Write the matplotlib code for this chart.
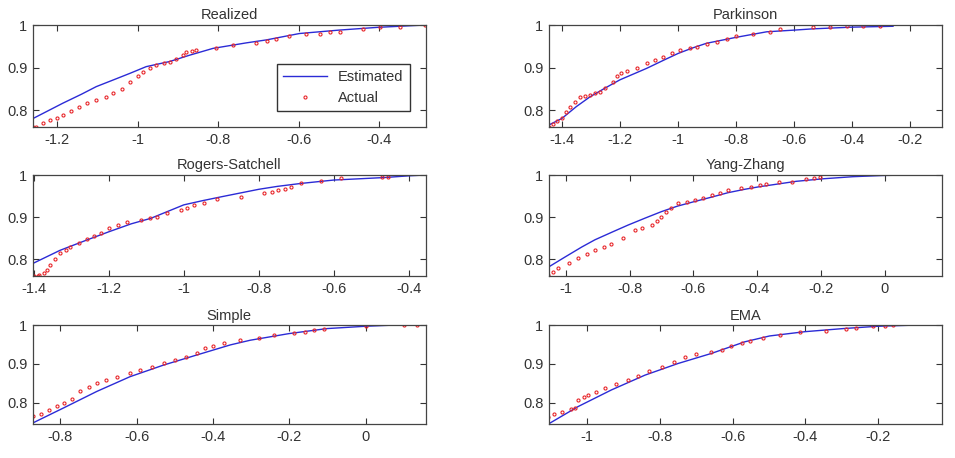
import matplotlib.pyplot as plt
from matplotlib.ticker import FuncFormatter

plt.rcParams['font.family'] = ['Liberation Sans', 'DejaVu Sans']

titles = ['Realized', 'Parkinson', 'Rogers-Satchell', 'Yang-Zhang', 'Simple', 'EMA']

# estimated (fitted) curves
est_x = [
    [-1.26, -1.186, -1.14, -1.103, -1.06, -1.02, -0.979, -0.921, -0.871, -0.813, -0.73, -0.68, -0.598, -0.5, -0.404, -0.285],
    [-1.444, -1.4, -1.35, -1.303, -1.25, -1.2, -1.108, -1.05, -1.0, -0.95, -0.902, -0.8, -0.695, -0.6, -0.535, -0.4, -0.26],
    [-1.402, -1.33, -1.26, -1.2, -1.14, -1.088, -1.0, -0.95, -0.901, -0.8, -0.75, -0.687, -0.6, -0.464, -0.4, -0.355],
    [-1.053, -1.003, -0.95, -0.909, -0.85, -0.805, -0.75, -0.7, -0.65, -0.596, -0.54, -0.491, -0.439, -0.394, -0.277, -0.193, -0.099, 0.0, 0.086],
    [-0.871, -0.792, -0.704, -0.617, -0.529, -0.442, -0.354, -0.302, -0.201, -0.101, 0.0, 0.074, 0.157],
    [-1.105, -1.025, -0.933, -0.841, -0.75, -0.658, -0.566, -0.498, -0.401, -0.296, -0.2, -0.097],
]
est_y = [
    [0.78, 0.816, 0.837, 0.855, 0.871, 0.886, 0.902, 0.914, 0.929, 0.945, 0.958, 0.965, 0.98, 0.988, 0.9945, 1.0],
    [0.765, 0.78, 0.808, 0.831, 0.852, 0.871, 0.898, 0.917, 0.933, 0.946, 0.957, 0.971, 0.984, 0.988, 0.991, 0.995, 0.997],
    [0.79, 0.821, 0.845, 0.865, 0.884, 0.897, 0.929, 0.939, 0.948, 0.966, 0.973, 0.98, 0.988, 0.994, 0.998, 1.0],
    [0.782, 0.805, 0.829, 0.846, 0.866, 0.881, 0.898, 0.913, 0.926, 0.937, 0.948, 0.958, 0.966, 0.972, 0.985, 0.991, 0.996, 0.999, 1.0],
    [0.748, 0.786, 0.829, 0.867, 0.897, 0.923, 0.949, 0.961, 0.978, 0.991, 0.997, 1.0, 1.0],
    [0.746, 0.79, 0.833, 0.871, 0.901, 0.927, 0.957, 0.972, 0.983, 0.991, 0.997, 1.0],
]

# actual (empirical) points
act_x = [
    [-1.26, -1.252, -1.236, -1.219, -1.2, -1.186, -1.165, -1.145, -1.125, -1.103, -1.08, -1.062,
     -1.04, -1.02, -1.0, -0.987, -0.97, -0.954, -0.935, -0.921, -0.905, -0.888, -0.879, -0.865,
     -0.855, -0.805, -0.764, -0.706, -0.68, -0.656, -0.623, -0.581, -0.548, -0.523, -0.498,
     -0.441, -0.399, -0.349, -0.287],
    [-1.444, -1.43, -1.415, -1.4, -1.385, -1.371, -1.355, -1.337, -1.32, -1.303, -1.285, -1.268,
     -1.25, -1.223, -1.211, -1.195, -1.177, -1.14, -1.108, -1.08, -1.051, -1.02, -0.994, -0.96,
     -0.936, -0.9, -0.867, -0.83, -0.8, -0.742, -0.684, -0.65, -0.535, -0.478, -0.42, -0.364,
     -0.306],
    [-1.4, -1.39, -1.385, -1.374, -1.365, -1.356, -1.343, -1.33, -1.315, -1.303, -1.28, -1.258,
     -1.24, -1.222, -1.2, -1.175, -1.151, -1.115, -1.09, -1.071, -1.044, -1.008, -0.99, -0.972,
     -0.946, -0.91, -0.847, -0.785, -0.765, -0.749, -0.73, -0.714, -0.687, -0.633, -0.58,
     -0.47, -0.455],
    [-1.055, -1.04, -1.024, -0.99, -0.961, -0.935, -0.909, -0.88, -0.857, -0.82, -0.784, -0.76,
     -0.731, -0.715, -0.7, -0.685, -0.669, -0.648, -0.62, -0.596, -0.57, -0.543, -0.515, -0.491,
     -0.45, -0.42, -0.39, -0.371, -0.33, -0.29, -0.246, -0.22, -0.204],
    [-0.871, -0.85, -0.83, -0.809, -0.79, -0.77, -0.748, -0.725, -0.704, -0.68, -0.65, -0.617,
     -0.59, -0.56, -0.529, -0.5, -0.47, -0.442, -0.42, -0.4, -0.372, -0.33, -0.28, -0.24,
     -0.188, -0.16, -0.135, -0.11, 0.0, 0.1, 0.135],
    [-1.107, -1.09, -1.07, -1.045, -1.034, -1.025, -1.01, -0.997, -0.975, -0.951, -0.92, -0.887,
     -0.86, -0.83, -0.795, -0.76, -0.731, -0.7, -0.658, -0.63, -0.603, -0.575, -0.553, -0.516,
     -0.47, -0.415, -0.342, -0.287, -0.26, -0.214, -0.18, -0.159],
]
act_y = [
    [0.76, 0.761, 0.77, 0.776, 0.782, 0.788, 0.798, 0.808, 0.816, 0.824, 0.831, 0.839,
     0.85, 0.867, 0.879, 0.89, 0.898, 0.906, 0.91, 0.912, 0.919, 0.929, 0.937, 0.94,
     0.941, 0.945, 0.953, 0.958, 0.963, 0.966, 0.974, 0.98, 0.98, 0.984, 0.984,
     0.99, 0.996, 0.996, 1.0],
    [0.76, 0.768, 0.775, 0.782, 0.795, 0.808, 0.82, 0.831, 0.834, 0.835, 0.839, 0.843,
     0.852, 0.867, 0.88, 0.886, 0.892, 0.9, 0.91, 0.918, 0.925, 0.933, 0.941, 0.945,
     0.949, 0.955, 0.961, 0.967, 0.974, 0.979, 0.984, 0.99, 0.996, 0.996, 0.998, 0.998,
     0.998],
    [0.76, 0.761, 0.762, 0.766, 0.775, 0.786, 0.8, 0.814, 0.822, 0.829, 0.838, 0.849,
     0.856, 0.863, 0.873, 0.88, 0.889, 0.893, 0.897, 0.901, 0.909, 0.917, 0.922, 0.929,
     0.934, 0.942, 0.948, 0.958, 0.96, 0.964, 0.967, 0.972, 0.98, 0.986, 0.992,
     0.996, 0.996],
    [0.762, 0.77, 0.778, 0.79, 0.802, 0.812, 0.821, 0.83, 0.837, 0.85, 0.869, 0.874,
     0.881, 0.89, 0.901, 0.911, 0.921, 0.933, 0.937, 0.94, 0.946, 0.952, 0.958, 0.964,
     0.968, 0.972, 0.976, 0.978, 0.984, 0.984, 0.99, 0.994, 0.996],
    [0.765, 0.772, 0.781, 0.792, 0.8, 0.81, 0.829, 0.84, 0.851, 0.858, 0.866, 0.876,
     0.884, 0.893, 0.902, 0.91, 0.918, 0.927, 0.94, 0.946, 0.953, 0.961, 0.968, 0.974,
     0.98, 0.983, 0.987, 0.99, 0.997, 1.0, 1.0],
    [0.764, 0.77, 0.777, 0.783, 0.786, 0.807, 0.815, 0.82, 0.828, 0.837, 0.848, 0.858,
     0.87, 0.882, 0.893, 0.906, 0.918, 0.925, 0.931, 0.937, 0.945, 0.953, 0.96, 0.967,
     0.975, 0.981, 0.985, 0.99, 0.993, 0.997, 0.998, 1.0],
]

xlims = [(-1.26, -0.285), (-1.444, -0.093), (-1.402, -0.355),
         (-1.053, 0.179), (-0.871, 0.157), (-1.105, -0.025)]
ylims = [(0.76, 1), (0.76, 1), (0.76, 1), (0.76, 1), (0.745, 1), (0.745, 1)]
xticks = [[-1.2, -1, -0.8, -0.6, -0.4],
          [-1.4, -1.2, -1, -0.8, -0.6, -0.4, -0.2],
          [-1.4, -1.2, -1, -0.8, -0.6, -0.4],
          [-1, -0.8, -0.6, -0.4, -0.2, 0],
          [-0.8, -0.6, -0.4, -0.2, 0],
          [-1, -0.8, -0.6, -0.4, -0.2]]
yticks = [0.8, 0.9, 1]

fig = plt.figure(figsize=(9.55, 4.58), dpi=100)

col_left = [0.0346, 0.5749]
col_w = 0.411
rows = [(0.7227, 0.2227), (0.3974, 0.2205), (0.0742, 0.216)]

fmt = FuncFormatter(lambda v, p: ('%g' % round(v, 3)))

for i in range(6):
    r, c = divmod(i, 2)
    ax = fig.add_axes([col_left[c], rows[r][0], col_w, rows[r][1]])
    ax.plot(est_x[i], est_y[i], color='#2b2bd6', lw=1.0, label='Estimated')
    ax.plot(act_x[i], act_y[i], ls='none', marker='o', ms=2.2, mfc='none',
            mec='#e8262a', mew=0.8, label='Actual')
    ax.set_xlim(xlims[i])
    ax.set_ylim(ylims[i])
    ax.set_xticks(xticks[i])
    ax.set_yticks(yticks)
    ax.xaxis.set_major_formatter(fmt)
    ax.yaxis.set_major_formatter(fmt)
    ax.tick_params(direction='in', top=True, right=True, length=4, width=0.8,
                   labelsize=10.5, colors='#333333', pad=4)
    for s in ax.spines.values():
        s.set_color('#444444')
        s.set_linewidth(0.9)
    ax.set_title(titles[i], fontsize=10.5, color='#333333', pad=4)
    if i == 0:
        ax.legend(loc='lower right', fontsize=10.5, fancybox=False, edgecolor='#333333',
                  framealpha=1, handlelength=3, borderaxespad=1.1, labelcolor='#333333')

plt.savefig('out.png', dpi=100)
